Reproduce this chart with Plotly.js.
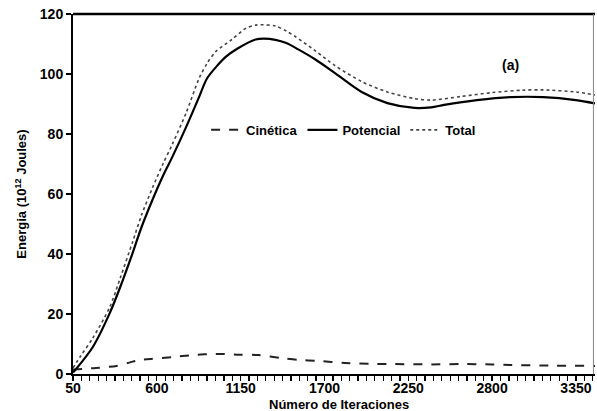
<!DOCTYPE html>
<html><head><meta charset="utf-8">
<script src="https://cdn.plot.ly/plotly-3.0.1.min.js"></script>
<style>html,body{margin:0;padding:0;background:#fff}#chart{width:597px;height:411px}</style>
</head><body><div id="chart"></div>
<script>
// Potencial (thick solid)
const potX = [50, 76, 180, 291, 360, 441, 500, 571, 640, 701, 792, 877, 929, 1000, 1052, 1130, 1248, 1300, 1378, 1450, 1528, 1638, 1769, 1944, 2113, 2290, 2400, 2485, 2700, 2921, 3136, 3350, 3475];
const potY = [0.5, 2, 9, 20.3, 29, 40.3, 49, 58, 66, 72.3, 82.3, 92.3, 98.5, 103, 105.7, 108.5, 111.5, 111.8, 111.4, 110.3, 108.2, 104.9, 100.3, 94, 90.3, 88.7, 88.9, 89.7, 91.3, 92.3, 92.3, 91.3, 90.2];
// Total (thin dotted)
const totX = [50, 100, 180, 291, 360, 441, 500, 571, 640, 701, 792, 877, 929, 987, 1092, 1183, 1250, 1300, 1378, 1450, 1508, 1638, 1769, 1944, 2113, 2290, 2400, 2595, 2800, 3000, 3136, 3350, 3475];
const totY = [2, 6, 12, 22.3, 32, 44, 53, 62, 70, 76.5, 87, 98.5, 103.5, 107.5, 111.5, 115.2, 116.3, 116.4, 116, 114.3, 112.5, 107.8, 102.8, 97.5, 94, 91.8, 91.3, 92.5, 93.8, 94.6, 94.7, 94, 93];
// Cinética (dashed, bottom)
const kinX = [50, 200, 336, 420, 486, 560, 700, 832, 987, 1150, 1268, 1417, 1528, 1650, 1834, 2000, 2160, 2400, 2595, 2800, 2921, 3200, 3475];
const kinY = [1.5, 2, 2.7, 3.8, 4.7, 5, 5.6, 6.3, 6.7, 6.4, 6.3, 5.3, 4.7, 4.4, 3.7, 3.4, 3.3, 3.2, 3.3, 3.2, 3, 2.8, 2.7];
const xTicks = [50, 600, 1150, 1700, 2250, 2800, 3350];
const yTicks = [0, 20, 40, 60, 80, 100, 120];

// every x tick position (labelled ones from xTicks, unlabelled minor ones between)
const xTickPos = [], xTickText = [];
for (let v = 50; v <= 3475; v += 55) {
  xTickPos.push(v);
  xTickText.push(xTicks.includes(v) ? String(v) : '');
}

const FAM = 'Liberation Sans, Arial, sans-serif';
const F = {family: FAM, size: 13, color: '#000', weight: 'bold'};
const TF = {family: FAM, size: 14, color: '#000', weight: 'bold'};
const traces = [
  {x: kinX, y: kinY, name: 'Cinética', mode: 'lines', line: {color: '#222', width: 2, dash: 'dash', shape: 'spline', smoothing: 0.8}},
  {x: potX, y: potY, name: 'Potencial', mode: 'lines', line: {color: '#000', width: 2.2, shape: 'spline', smoothing: 0.8}},
  {x: totX, y: totY, name: 'Total', mode: 'lines', line: {color: '#444', width: 1.6, dash: 'dot', shape: 'spline', smoothing: 0.8}}
];
const layout = {
  width: 597, height: 411,
  margin: {l: 73, r: 2, t: 14, b: 37},
  paper_bgcolor: '#fff', plot_bgcolor: '#fff',
  font: F,
  showlegend: true,
  legend: {orientation: 'h', x: 0.255, y: 0.678, xanchor: 'left', yanchor: 'middle', bgcolor: 'rgba(0,0,0,0)', font: F, itemwidth: 30, tracegroupgap: 0},
  xaxis: {
    range: [50, 3475], tickmode: 'array', tickvals: xTickPos, ticktext: xTickText,
    showgrid: false, zeroline: false, showline: true, linecolor: '#000', linewidth: 2,
    ticks: 'outside', ticklen: 5, tickwidth: 1.3, tickcolor: '#000', tickfont: TF,
    ticklabelstandoff: -5,
    title: {text: '', font: F}
  },
  yaxis: {
    range: [0, 120], tickvals: yTicks, ticktext: yTicks.map(String),
    showgrid: false, zeroline: false, showline: true, linecolor: '#000', linewidth: 2,
    ticks: 'outside', ticklen: 5, tickwidth: 1.5, tickcolor: '#000', tickfont: TF,
    title: {text: 'Energia (10<sup>12</sup> Joules)', font: F, standoff: 10}
  },
  shapes: [
    {type: 'line', xref: 'paper', yref: 'paper', x0: 0, x1: 1, y0: 1, y1: 1, line: {color: '#000', width: 2.5}},
    {type: 'line', xref: 'paper', yref: 'paper', x0: 0.997, x1: 0.997, y0: 0, y1: 1, line: {color: '#888', width: 1}}
  ],
  annotations: [
    {text: '(a)', x: 2920, y: 103, xref: 'x', yref: 'y', showarrow: false, font: {family: FAM, size: 14, color: '#000', weight: 'bold'}},
    {text: 'Número de Iteraciones', x: 0.51, y: 0, xref: 'paper', yref: 'paper', yanchor: 'middle', yshift: -30, showarrow: false, font: F}
  ]
};
Plotly.newPlot('chart', traces, layout, {displayModeBar: false, staticPlot: true});
</script>
</body></html>
